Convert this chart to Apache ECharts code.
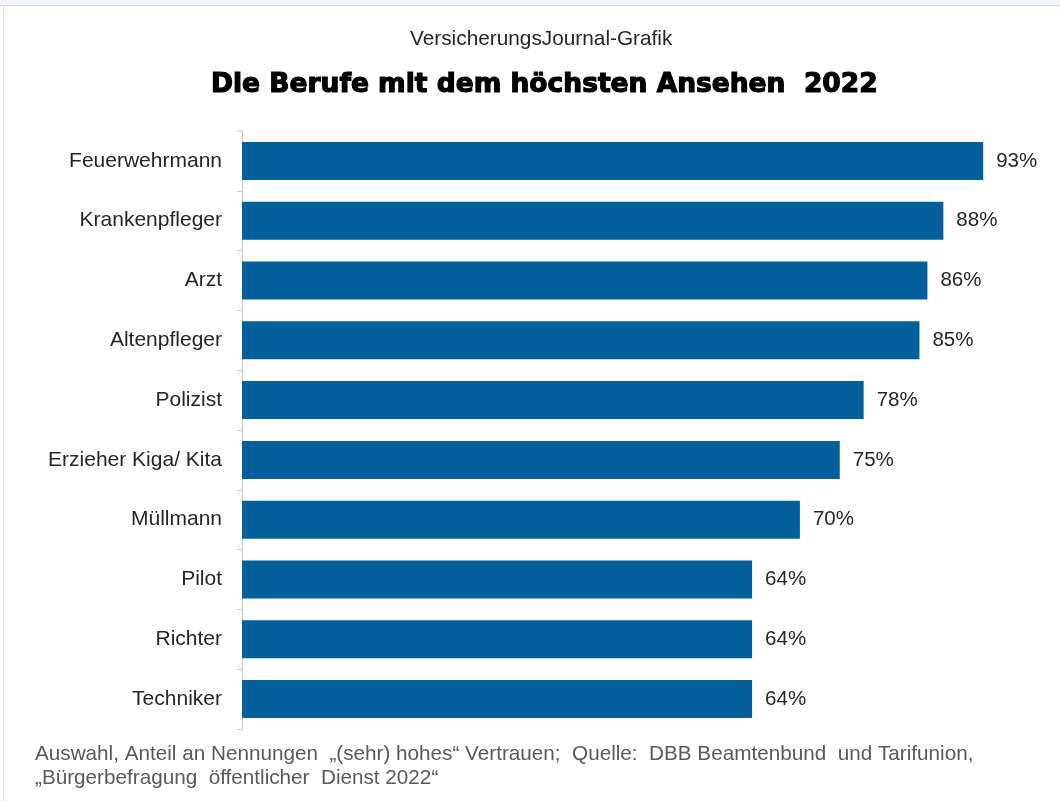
<!DOCTYPE html>
<html>
<head>
<meta charset="utf-8">
<script src="https://cdn.jsdelivr.net/npm/echarts@6/dist/echarts.min.js"></script>
<style>
  html, body { margin: 0; padding: 0; background: #fff; }
  #frameTop { position: absolute; left: 0; top: 0; width: 1060px; height: 5px; background: #f2f7fc; border-bottom: 1px solid #d6d9dc; }
  #frameLeft { position: absolute; left: 3px; top: 6px; width: 1px; height: 795px; background: #dcdcdc; }
  #chart { position: absolute; left: 0; top: 0; width: 1060px; height: 801px; }
</style>
</head>
<body>
<div id="frameTop"></div>
<div id="frameLeft"></div>
<div id="chart"></div>
<script>
// Professions and their share of "(sehr) hohes" Vertrauen, top to bottom
const categories = ['Feuerwehrmann', 'Krankenpfleger', 'Arzt', 'Altenpfleger', 'Polizist',
  'Erzieher Kiga/ Kita', 'Müllmann', 'Pilot', 'Richter', 'Techniker'];
const values = [93, 88, 86, 85, 78, 75, 70, 64, 64, 64];

const FONT = 'Liberation Sans';
const chart = echarts.init(document.getElementById('chart'));
chart.setOption({
  backgroundColor: 'transparent',
  animation: false,
  title: [
    {
      text: 'VersicherungsJournal-Grafik',
      left: 405, top: 24,
      textStyle: { fontFamily: FONT, fontSize: 20.8, fontWeight: 'normal', color: '#262626' }
    },
    {
      text: 'Die Berufe mit dem höchsten Ansehen  2022',
      left: 206, top: 67,
      textStyle: {
        fontFamily: 'DejaVu Sans', fontSize: 26.5, fontWeight: 'bold', color: '#000',
        textBorderColor: '#000', textBorderWidth: 1.2
      }
    },
    {
      text: 'Auswahl, Anteil an Nennungen  „(sehr) hohes“ Vertrauen;  Quelle:  DBB Beamtenbund  und Tarifunion,\n„Bürgerbefragung  öffentlicher  Dienst 2022“',
      left: 30, top: 737,
      textStyle: { fontFamily: FONT, fontSize: 20.7, fontWeight: 'normal', color: '#595959', lineHeight: 24 }
    }
  ],
  grid: { left: 242, right: 21, top: 131, bottom: 72, containLabel: false },
  xAxis: {
    type: 'value', min: 0, max: 100,
    show: false
  },
  yAxis: {
    type: 'category',
    data: categories,
    inverse: true,
    axisLine: { show: true, lineStyle: { color: '#c8c8c8', width: 1 } },
    axisTick: { show: true, length: 5, alignWithLabel: false, lineStyle: { color: '#c8c8c8' } },
    axisLabel: { fontFamily: FONT, fontSize: 21, color: '#262626', margin: 20 }
  },
  series: [{
    type: 'bar',
    data: values,
    barWidth: 38,
    itemStyle: { color: '#03609a' },
    label: {
      show: true, position: 'right', distance: 13,
      formatter: p => p.value + '%',
      fontFamily: FONT, fontSize: 20.5, color: '#262626'
    }
  }]
});
</script>
</body>
</html>
